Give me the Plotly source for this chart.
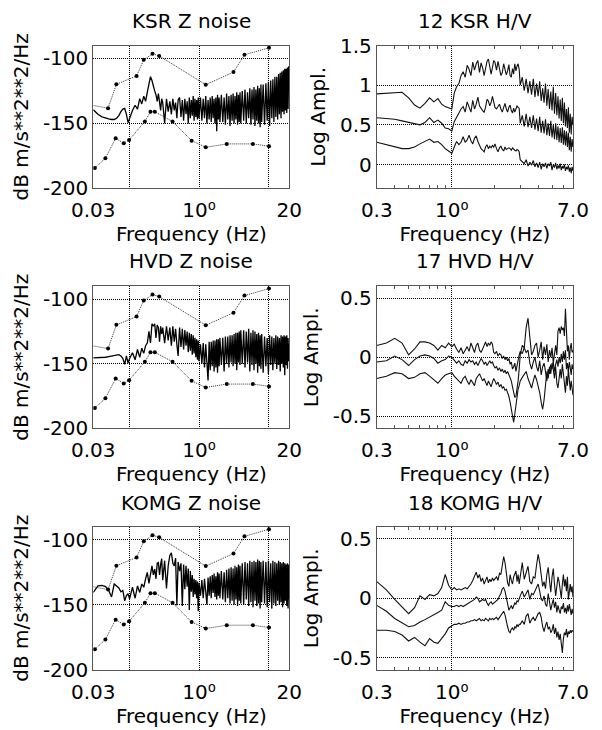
import math
import plotly.graph_objects as go

# ---------------- data ----------------
# Left column: vertical noise PSD (dB re (m/s^2)^2 / Hz)
noise_freq = [0.030, 0.035, 0.040, 0.045, 0.050, 0.055, 0.060, 0.065, 0.070, 0.075,
              0.080, 0.085, 0.090, 0.095, 0.100, 0.110, 0.120, 0.130, 0.140, 0.150,
              0.160, 0.170, 0.180, 0.190, 0.200, 0.210, 0.220, 0.230, 0.240, 0.250,
              0.260, 0.270, 0.280, 0.290,
              0.30, 0.32, 0.34, 0.36, 0.38, 0.40, 0.42, 0.44, 0.46, 0.48, 0.50,
              0.525, 0.55, 0.575, 0.60, 0.625, 0.65, 0.675, 0.70, 0.725, 0.75,
              0.775, 0.80, 0.825, 0.85, 0.875, 0.90, 0.925, 0.95, 0.975, 1.00,
              1.05, 1.10, 1.15, 1.20, 1.25, 1.30, 1.35, 1.40, 1.45, 1.50,
              1.55, 1.60, 1.65, 1.70, 1.75, 1.80, 1.85, 1.90, 1.95, 2.00,
              2.1, 2.2, 2.3, 2.4, 2.5, 2.6, 2.7, 2.8, 2.9, 3.0,
              3.1, 3.2, 3.3, 3.4, 3.5, 3.6, 3.7, 3.8, 3.9, 4.0,
              4.2, 4.4, 4.6, 4.8, 5.0, 5.2, 5.4, 5.6, 5.8, 6.0,
              6.2, 6.4, 6.6, 6.8, 7.0, 7.2, 7.4, 7.6, 7.8, 8.0,
              8.4, 8.8, 9.2, 9.6, 10.0, 10.4, 10.8, 11.2, 11.6, 12.0,
              12.4, 12.8, 13.2, 13.6, 14.0, 14.4, 14.8, 15.2, 15.6, 16.0,
              16.4, 16.8, 17.2, 17.6, 18.0, 18.4, 18.8, 19.2, 19.6, 20.0]

ksr_psd = [-139.5, -143, -145, -146, -146.5, -147, -147, -146, -144, -141,
           -139, -138.5, -143, -149.5, -146, -140, -136, -139, -131, -135,
           -129, -133, -126, -121, -114, -117, -122, -125, -128, -133,
           -127, -132, -140, -131,
           -134, -150, -131, -141, -133, -143, -131, -140, -134, -146, -132,
           -130, -145, -132, -148, -131, -143, -133, -150, -130, -146,
           -132, -144, -129, -148, -131, -145, -132, -147, -130, -146,
           -130, -148, -131, -146, -129, -150, -132, -147, -130, -149,
           -129, -146, -131, -150, -130, -156, -128, -147, -130, -149,
           -128, -149, -130, -151, -127, -147, -129, -152, -128, -148,
           -127, -150, -129, -147, -126, -151, -128, -149, -126, -150,
           -125, -148, -124, -150, -126, -146, -123, -151, -124, -147,
           -122, -152, -124, -148, -121, -150, -123, -153, -120, -149,
           -120, -151, -119, -148, -118, -152, -117, -146, -116, -149,
           -114, -145, -114, -147, -112, -143, -111, -146, -110, -141,
           -109, -143, -108, -140, -108, -142, -107, -139, -106, -125]

hvd_psd = [-145.5, -145.5, -145.5, -145, -144.5, -144, -143.5, -143, -143, -144,
           -146, -150.5, -144, -149.5, -146, -141.5, -147, -139, -145, -138,
           -142, -136, -134, -125, -134, -119, -121, -119, -130, -120,
           -122, -133, -121, -127,
           -122, -134, -121, -132, -122, -136, -121, -133, -123, -135, -144,
           -122, -137, -123, -139, -124, -136, -125, -141, -126, -140,
           -127, -143, -128, -142, -130, -145, -131, -147, -132, -148,
           -135, -150, -134, -153, -135, -156, -163, -133, -155, -133,
           -152, -132, -156, -132, -153, -131, -157, -131, -152, -130,
           -151, -130, -156, -129, -150, -129, -153, -128, -149, -128,
           -152, -127, -150, -126, -155, -126, -149, -125, -151, -124,
           -150, -124, -153, -125, -149, -123, -156, -126, -151, -124,
           -155, -125, -150, -127, -157, -126, -152, -128, -154, -127,
           -157, -129, -152, -130, -158, -128, -151, -129, -155, -130,
           -150, -128, -154, -129, -151, -130, -156, -128, -150, -129,
           -153, -128, -159, -129, -151, -128, -154, -130, -148, -135]

komg_psd = [-140.5, -135.5, -135, -136, -139, -144, -134, -135.5, -137, -140,
            -139, -147, -143, -141.5, -145.5, -136.5, -145, -135.5, -140.5, -134,
            -136.5, -130, -125, -133.5, -126, -120, -127, -122.5, -130, -118,
            -117.5, -127, -119, -114.5,
            -131, -116, -137.5, -120, -112, -110, -118, -120, -114, -150.5, -117,
            -124, -118, -151, -119, -138, -120, -136, -122, -154, -124,
            -140, -127, -144, -130, -142, -131, -145, -132, -155, -133,
            -143, -131, -145, -130, -142, -150, -129, -143, -128, -145,
            -127, -141, -126, -144, -128, -146, -125, -143, -126, -145,
            -124, -146, -125, -148, -123, -145, -122, -149, -121, -147,
            -122, -150, -120, -146, -121, -151, -119, -147, -120, -149,
            -118, -150, -117, -146, -118, -151, -116, -148, -117, -152,
            -116, -147, -117, -151, -115, -149, -116, -153, -117, -148,
            -116, -149, -117, -152, -116, -148, -118, -153, -116, -149,
            -117, -151, -118, -147, -116, -150, -117, -148, -118, -152,
            -117, -149, -118, -147, -119, -151, -118, -153, -119, -146]

# Peterson high / low noise models (same in every noise panel)
nhnm_freq = [0.0028, 0.049, 0.0645, 0.126, 0.160, 0.214, 0.267, 1.25, 3.14, 4.52, 10.2]
nhnm_db = [-126, -138.3, -119.9, -113.5, -101, -96.4, -98, -120.2, -110.5, -97.2, -91.8]
nlnm_freq = [0.0316, 0.0448, 0.063, 0.0824, 0.0984, 0.166, 0.200, 0.231, 0.416,
             0.783, 1.25, 2.51, 5.97, 10.2]
nlnm_db = [-184.4, -176.8, -161.5, -165.3, -162.8, -148.5, -141.1, -141.1, -148.5,
           -163.3, -168.4, -165.8, -165.8, -167.6]

# Right column: H/V spectral ratios (log10 amplitude), three curves per station
hv_freq = [0.30, 0.35, 0.40, 0.45, 0.50, 0.55, 0.60, 0.65, 0.70, 0.75,
           0.80, 0.85, 0.90, 0.95, 1.00,
           1.04, 1.08, 1.12, 1.16, 1.20, 1.24, 1.28, 1.32, 1.36, 1.40,
           1.44, 1.48, 1.52, 1.56, 1.60, 1.64, 1.68, 1.72, 1.76, 1.80,
           1.84, 1.88, 1.92, 1.96, 2.00,
           2.05, 2.10, 2.15, 2.20, 2.25, 2.30, 2.35, 2.40, 2.45, 2.50,
           2.55, 2.60, 2.65, 2.70, 2.75, 2.80, 2.85, 2.90, 2.95, 3.00,
           3.1, 3.2, 3.3, 3.4, 3.5, 3.6, 3.7, 3.8, 3.9, 4.0,
           4.1, 4.2, 4.3, 4.4, 4.5, 4.6, 4.7, 4.8, 4.9, 5.0,
           5.1, 5.2, 5.3, 5.4, 5.5, 5.6, 5.7, 5.8, 5.9, 6.0,
           6.1, 6.2, 6.3, 6.4, 6.5, 6.6, 6.7, 6.8, 6.9, 7.0]

ksr_hv_hi = [0.89, 0.90, 0.91, 0.91, 0.84, 0.75, 0.71, 0.77, 0.84, 0.79,
             0.83, 0.76, 0.73, 0.71, 0.70,
             0.90, 0.98, 1.02, 1.12, 1.17, 1.10, 1.25, 1.20, 1.12, 1.29,
             1.19, 1.27, 1.31, 1.16, 1.28, 1.22, 1.12, 1.20, 1.30, 1.33,
             1.22, 1.14, 1.22, 1.31, 1.29,
             1.19, 1.30, 1.22, 1.12, 1.16, 1.27, 1.20, 1.13, 1.18, 1.26,
             1.12, 1.10, 1.21, 1.14, 1.27, 1.18, 1.24, 1.27, 1.20, 1.00,
             1.10, 0.93, 1.08, 0.90, 1.05, 0.88, 1.08, 0.85, 1.02, 0.86,
             1.05, 0.80, 0.96, 0.78, 1.02, 0.74, 0.95, 0.70, 0.92, 0.68,
             0.98, 0.64, 0.90, 0.62, 0.86, 0.58, 0.82, 0.55, 0.84, 0.52,
             0.78, 0.48, 0.70, 0.46, 0.72, 0.40, 0.64, 0.38, 0.60, 0.50]
ksr_hv_mid = [0.59, 0.58, 0.57, 0.55, 0.53, 0.51, 0.50, 0.53, 0.59, 0.53,
              0.56, 0.52, 0.46, 0.45, 0.42,
              0.54, 0.60, 0.64, 0.70, 0.73, 0.66, 0.79, 0.72, 0.66, 0.81,
              0.70, 0.76, 0.85, 0.74, 0.70, 0.68, 0.66, 0.72, 0.82, 0.80,
              0.74, 0.78, 0.86, 0.80, 0.72,
              0.70, 0.74, 0.76, 0.70, 0.66, 0.72, 0.77, 0.70, 0.66, 0.72,
              0.75, 0.68, 0.65, 0.71, 0.66, 0.70, 0.74, 0.72, 0.71, 0.52,
              0.62, 0.48, 0.64, 0.47, 0.60, 0.46, 0.62, 0.44, 0.58, 0.42,
              0.60, 0.40, 0.55, 0.39, 0.57, 0.37, 0.52, 0.36, 0.55, 0.34,
              0.50, 0.32, 0.52, 0.31, 0.48, 0.28, 0.46, 0.27, 0.47, 0.25,
              0.43, 0.24, 0.42, 0.22, 0.40, 0.18, 0.35, 0.16, 0.32, 0.22]
ksr_hv_lo = [0.28, 0.25, 0.22, 0.20, 0.20, 0.22, 0.26, 0.29, 0.32, 0.28,
             0.29, 0.25, 0.20, 0.17, 0.14,
             0.22, 0.29, 0.25, 0.28, 0.35, 0.28, 0.31, 0.37, 0.30, 0.26,
             0.33, 0.36, 0.29, 0.24, 0.20, 0.18, 0.16, 0.22, 0.25, 0.20,
             0.23, 0.21, 0.24, 0.22, 0.26,
             0.20, 0.16, 0.21, 0.23, 0.19, 0.17, 0.22, 0.19, 0.20, 0.21,
             0.20, 0.18, 0.21, 0.19, 0.18, 0.17, 0.19, 0.18, 0.16, 0.06,
             0.04, 0.01, 0.06, -0.02, 0.03, -0.01, 0.05, -0.03, 0.02, -0.04,
             0.03, -0.06, 0.01, -0.03, 0.02, -0.05, 0.01, -0.02, 0.03, -0.07,
             0.00, -0.04, 0.02, -0.06, -0.01, -0.05, 0.01, -0.07, -0.02, -0.05,
             0.00, -0.08, -0.03, -0.06, -0.01, -0.09, -0.04, -0.11, -0.03, -0.08]

hvd_hv_hi = [0.10, 0.12, 0.16, 0.12, 0.02, 0.07, 0.13, 0.13, 0.12, 0.10,
             0.06, 0.10, 0.08, 0.12, 0.09,
             0.11, 0.07, 0.04, 0.08, 0.03, 0.06, 0.09, 0.05, 0.12, 0.08,
             0.04, 0.10, 0.12, 0.06, 0.04, 0.07, 0.11, 0.13, 0.09, 0.12,
             0.10, 0.13, 0.11, 0.04, 0.03,
             0.05, 0.01, 0.03, 0.02, -0.01, 0.01, -0.02, 0.00, -0.03, -0.01,
             -0.06, -0.04, -0.10, -0.08, -0.05, -0.12, -0.06, -0.03, 0.02, 0.05,
             0.03, 0.08, 0.25, 0.33, 0.15, 0.02, 0.05, 0.10, 0.12, 0.00,
             0.06, 0.13, -0.02, 0.09, 0.02, 0.11, -0.04, 0.06, 0.00, 0.08,
             -0.05, 0.04, 0.10, 0.02, 0.22, 0.25, 0.20, 0.26, 0.23, 0.25,
             0.18, 0.41, 0.20, 0.05, 0.10, -0.02, 0.08, 0.12, 0.04, 0.06]
hvd_hv_mid = [-0.04, -0.03, 0.01, -0.02, -0.07, -0.02, 0.01, 0.02, 0.01, -0.01,
              -0.05, -0.03, -0.02, 0.01, 0.00,
              -0.03, -0.05, -0.03, -0.06, -0.07, -0.03, -0.05, -0.02, -0.04, -0.03,
              -0.06, -0.04, -0.07, -0.03, -0.01, -0.03, -0.06, -0.04, -0.07, -0.05,
              -0.03, -0.05, -0.04, -0.07, -0.09,
              -0.08, -0.11, -0.09, -0.12, -0.10, -0.13, -0.11, -0.14, -0.12, -0.15,
              -0.17, -0.20, -0.25, -0.30, -0.34, -0.33, -0.28, -0.20, -0.10, 0.02,
              0.10, 0.08, 0.04, 0.06, -0.05, -0.10, -0.04, 0.00, -0.08, -0.12,
              -0.03, -0.15, -0.08, -0.05, -0.12, -0.20, -0.10, -0.14, -0.06, -0.10,
              -0.04, -0.12, -0.06, -0.02, -0.08, 0.00, -0.05, 0.03, -0.04, 0.05,
              -0.02, 0.06, -0.10, -0.05, -0.12, -0.04, -0.09, -0.15, -0.06, -0.10]
hvd_hv_lo = [-0.18, -0.16, -0.13, -0.14, -0.18, -0.17, -0.14, -0.13, -0.16, -0.19,
             -0.22, -0.18, -0.15, -0.14, -0.13,
             -0.16, -0.18, -0.20, -0.22, -0.18, -0.16, -0.20, -0.23, -0.19, -0.22,
             -0.24, -0.18, -0.16, -0.14, -0.17, -0.20, -0.18, -0.22, -0.24, -0.20,
             -0.22, -0.25, -0.21, -0.18, -0.20,
             -0.23, -0.21, -0.25, -0.23, -0.26, -0.25, -0.28, -0.27, -0.30, -0.33,
             -0.38, -0.45, -0.52, -0.55, -0.48, -0.40, -0.32, -0.27, -0.24, -0.20,
             -0.17, -0.14, -0.12, -0.18, -0.22, -0.26, -0.20, -0.15, -0.19, -0.24,
             -0.30, -0.38, -0.44, -0.36, -0.22, -0.12, -0.18, -0.08, -0.14, -0.05,
             -0.10, -0.18, -0.08, -0.22, -0.26, -0.15, -0.10, -0.18, -0.06, -0.14,
             -0.22, -0.30, -0.16, -0.24, -0.10, -0.18, -0.28, -0.20, -0.25, -0.32]

komg_hv_hi = [0.14, 0.07, -0.01, -0.07, -0.13, -0.08, 0.02, -0.01, 0.03, 0.02,
              0.04, 0.09, 0.20, 0.11, 0.07,
              0.09, 0.07, 0.08, 0.07, 0.08, 0.09, 0.08, 0.10, 0.12, 0.15,
              0.18, 0.22, 0.17, 0.20, 0.14, 0.17, 0.12, 0.16, 0.18, 0.13,
              0.16, 0.14, 0.17, 0.15, 0.16,
              0.18, 0.15, 0.21, 0.20, 0.30, 0.35, 0.30, 0.19, 0.13, 0.10,
              0.20, 0.15, 0.12, 0.18, 0.21, 0.23, 0.14, 0.20, 0.12, 0.18,
              0.30, 0.16, 0.22, 0.27, 0.14, 0.12, 0.18, 0.17, 0.28, 0.37,
              0.30, 0.17, 0.10, 0.14, 0.08, 0.20, 0.26, 0.15, 0.05, 0.18,
              0.25, 0.12, 0.02, 0.10, 0.18, 0.14, 0.05, 0.00, 0.12, 0.20,
              0.10, 0.16, 0.06, 0.18, -0.01, 0.04, 0.12, 0.05, 0.10, 0.01]
komg_hv_mid = [-0.06, -0.11, -0.17, -0.21, -0.24, -0.23, -0.20, -0.18, -0.16, -0.14,
               -0.12, -0.10, -0.03, -0.06, -0.07,
               -0.07, -0.06, -0.07, -0.06, -0.07, -0.06, -0.05, -0.04, -0.03, -0.02,
               -0.01, 0.01, 0.00, -0.03, -0.02, -0.01, -0.02, -0.01, -0.04, -0.06,
               -0.04, -0.03, -0.05, -0.04, -0.03,
               -0.02, -0.01, 0.02, 0.04, 0.08, 0.09, 0.06, 0.00, -0.07, -0.10,
               -0.08, -0.06, -0.09, -0.07, -0.04, -0.05, -0.02, -0.03, 0.00, 0.02,
               0.06, 0.01, 0.04, 0.07, -0.01, 0.04, 0.03, 0.06, 0.08, 0.12,
               0.06, -0.01, -0.02, 0.02, -0.05, -0.07, 0.04, -0.02, -0.10, -0.05,
               -0.01, -0.08, -0.03, -0.12, -0.06, -0.10, -0.13, -0.07, -0.09, -0.04,
               -0.12, -0.08, -0.13, -0.06, -0.11, -0.05, -0.10, -0.14, -0.09, -0.13]
komg_hv_lo = [-0.27, -0.27, -0.28, -0.31, -0.36, -0.33, -0.37, -0.40, -0.34, -0.37,
              -0.38, -0.34, -0.30, -0.25, -0.23,
              -0.22, -0.22, -0.21, -0.22, -0.21, -0.21, -0.20, -0.20, -0.19, -0.19,
              -0.18, -0.19, -0.18, -0.17, -0.19, -0.18, -0.19, -0.17, -0.18, -0.19,
              -0.17, -0.18, -0.17, -0.18, -0.17,
              -0.16, -0.18, -0.16, -0.15, -0.12, -0.11, -0.14, -0.20, -0.24, -0.28,
              -0.29, -0.26, -0.25, -0.27, -0.24, -0.25, -0.22, -0.24, -0.22, -0.22,
              -0.19, -0.22, -0.15, -0.13, -0.21, -0.18, -0.16, -0.19, -0.15, -0.13,
              -0.12, -0.16, -0.24, -0.28, -0.23, -0.20, -0.26, -0.24, -0.29, -0.27,
              -0.22, -0.30, -0.25, -0.33, -0.28, -0.35, -0.30, -0.42, -0.46, -0.34,
              -0.29, -0.31, -0.26, -0.33, -0.28, -0.30, -0.27, -0.29, -0.27, -0.28]

noise_titles = ["KSR Z noise", "HVD Z noise", "KOMG Z noise"]
hv_titles = ["12 KSR H/V", "17 HVD H/V", "18 KOMG H/V"]
noise_series = [ksr_psd, hvd_psd, komg_psd]
hv_series = [(ksr_hv_hi, ksr_hv_mid, ksr_hv_lo),
             (hvd_hv_hi, hvd_hv_mid, hvd_hv_lo),
             (komg_hv_hi, komg_hv_mid, komg_hv_lo)]

noise_xticks = [0.03, 1, 20]
noise_xticktext = ["0.03", "10\u2070", "20"]
noise_xgrid = [0.1, 10]
hv_xticks = [0.3, 1, 7]
hv_xticktext = ["0.3", "10\u2070", "7.0"]
hv_xgrid = [3]
hv_xminor = [0.4, 0.5, 0.6, 0.7, 0.8, 0.9, 2, 3, 4, 5, 6]

noise_yticks = [-200, -150, -100]
noise_yticktext = ["-200", "-150", "-100"]
hv_yticks = [[0, 0.5, 1, 1.5], [-0.5, 0, 0.5], [-0.5, 0, 0.5]]
hv_yticktext = [["0", "0.5", "1", "1.5"], ["-0.5", "0", "0.5"], ["-0.5", "0", "0.5"]]
hv_yranges = [[-0.3, 1.5], [-0.6, 0.6], [-0.6, 0.6]]

# ---------------- layout geometry (pixels) ----------------
W, H = 602, 730
FONT = "DejaVu Sans"
FS = 20
LEFT_X = (93.3, 289.3)
RIGHT_X = (376.8, 573.0)
ROWS = [(45.5, 188.3), (286.3, 428.2), (527.0, 669.5)]
TITLE_Y = [20.5, 261.0, 502.5]
DOT = "1px,1px"


def xdom(a):
    return [a[0] / W, a[1] / W]


def ydom(r):
    return [1 - r[1] / H, 1 - r[0] / H]


fig = go.Figure()
layout = dict(width=W, height=H, margin=dict(l=0, r=0, t=0, b=0),
              paper_bgcolor="white", plot_bgcolor="white", showlegend=False,
              font=dict(family=FONT, size=FS, color="black"))

frame = dict(showline=True, linecolor="#555", linewidth=1, zeroline=False,
             showgrid=True, gridcolor="black", griddash=DOT, gridwidth=1,
             automargin=False, tickfont=dict(family=FONT, size=FS, color="black"))
xtitle = dict(text="Frequency (Hz)", standoff=4, font=dict(family=FONT, size=FS))

annotations = []
for r in range(3):
    nl = 2 * r + 1
    nr = 2 * r + 2
    no = 7 + r
    xl, yl = ("x" if nl == 1 else f"x{nl}"), ("y" if nl == 1 else f"y{nl}")
    xr, yr = f"x{nr}", f"y{nr}"

    # --- noise panel ---
    fig.add_trace(go.Scatter(x=noise_freq, y=noise_series[r], mode="lines",
                             line=dict(color="black", width=1.3), xaxis=xl, yaxis=yl))
    for fx, fy in ((nhnm_freq, nhnm_db), (nlnm_freq, nlnm_db)):
        fig.add_trace(go.Scatter(x=fx, y=fy, mode="lines+markers",
                                 line=dict(color="#333", width=1, dash=DOT),
                                 marker=dict(color="black", size=4),
                                 xaxis=xl, yaxis=yl))
    # --- H/V panel ---
    for s in hv_series[r]:
        fig.add_trace(go.Scatter(x=hv_freq, y=s, mode="lines",
                                 line=dict(color="#111", width=1.1), xaxis=xr, yaxis=yr))

    kx = "xaxis" if nl == 1 else f"xaxis{nl}"
    ky = "yaxis" if nl == 1 else f"yaxis{nl}"
    layout[kx] = dict(frame, domain=xdom(LEFT_X), anchor=yl, type="log",
                      range=[math.log10(0.03), math.log10(20)],
                      tickmode="array", tickvals=noise_xticks,
                      ticktext=noise_xticktext, ticks="", mirror=True,
                      ticklabelstandoff=4, title=xtitle,
                      minor=dict(tickmode="array", tickvals=noise_xgrid, ticks="",
                                 showgrid=True, gridcolor="black", griddash=DOT,
                                 gridwidth=1))
    layout[ky] = dict(frame, domain=ydom(ROWS[r]), anchor=xl,
                      range=[-200, -90], tickmode="array", tickvals=noise_yticks,
                      ticktext=noise_yticktext, ticks="", mirror=True,
                      title=dict(text="dB m/s**2**2/Hz", standoff=8,
                                 font=dict(family=FONT, size=FS)))
    layout[f"xaxis{nr}"] = dict(frame, domain=xdom(RIGHT_X), anchor=yr, type="log",
                                range=[math.log10(0.3), math.log10(7)],
                                tickmode="array", tickvals=hv_xticks,
                                ticktext=hv_xticktext, ticks="", mirror="allticks",
                                ticklabelstandoff=4, title=xtitle,
                                minor=dict(tickmode="array", tickvals=hv_xminor,
                                           ticks="inside", ticklen=3,
                                           tickcolor="#555", showgrid=False))
    # overlay axis only carrying the dotted grid line at 3 Hz
    layout[f"xaxis{no}"] = dict(overlaying=xr, anchor=yr, type="log",
                                range=[math.log10(0.3), math.log10(7)],
                                tickmode="array", tickvals=hv_xgrid,
                                showticklabels=False, ticks="", showline=False,
                                zeroline=False, showgrid=True, gridcolor="black",
                                griddash=DOT, gridwidth=1, automargin=False)
    layout[f"yaxis{nr}"] = dict(frame, domain=ydom(ROWS[r]), anchor=xr,
                                range=hv_yranges[r], tickmode="array",
                                tickvals=hv_yticks[r], ticktext=hv_yticktext[r],
                                ticks="", mirror=True,
                                title=dict(text="Log Ampl.", standoff=8,
                                           font=dict(family=FONT, size=FS)))

    ty = 1 - TITLE_Y[r] / H
    for dom, ttl in ((LEFT_X, noise_titles[r]), (RIGHT_X, hv_titles[r])):
        annotations.append(dict(text=ttl, x=sum(xdom(dom)) / 2, y=ty,
                                xref="paper", yref="paper", xanchor="center",
                                yanchor="middle", showarrow=False,
                                font=dict(family=FONT, size=FS)))

layout["annotations"] = annotations
fig.update_layout(**layout)
fig.write_html("out.html", config={"displayModeBar": False},
               post_script="document.body.style.margin='0';"
                           "document.body.style.overflow='hidden';")
